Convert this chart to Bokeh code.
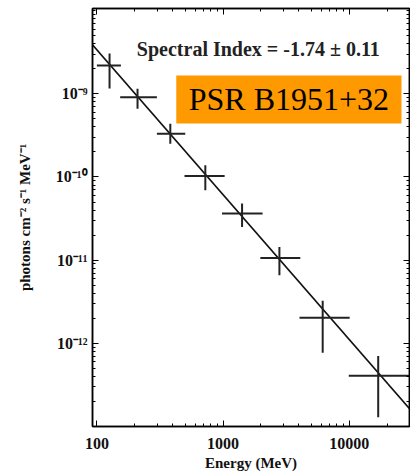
from bokeh.plotting import figure
from bokeh.models import LogAxis, FixedTicker, CustomJSTickFormatter, BasicTickFormatter
from bokeh.core.properties import value
from bokeh.embed import file_html
from bokeh.resources import INLINE

# ---- data ----
energy = [126, 210, 382, 724, 1416, 2800, 6170, 17000]          # MeV
energy_lo = [100, 153, 299, 495, 982, 1977, 4040, 9930]
energy_hi = [155, 299, 502, 1030, 2060, 4100, 10100, 31000]
flux = [2.19e-9, 9.1e-10, 3.31e-10, 1.03e-10, 3.63e-11, 1.06e-11, 2.03e-12, 4.08e-13]
flux_lo = [1.16e-9, 6.6e-10, 2.51e-10, 6.9e-11, 2.5e-11, 6.6e-12, 7.7e-13, 1.29e-13]
flux_hi = [3.05e-9, 1.15e-9, 4.37e-10, 1.38e-10, 4.79e-11, 1.44e-11, 3.24e-12, 7.05e-13]

spectral_index = -1.74
index_err = 0.11
fit_norm_1000 = 6.13e-11      # flux of the fitted power law at 1000 MeV
fit_energy = [90, 32000]
fit_flux = [fit_norm_1000 * (e / 1000.0) ** spectral_index for e in fit_energy]

x_major = [100, 1000, 10000]
y_major = [1e-12, 1e-11, 1e-10, 1e-9]
x_minor = [k * 10 ** n for n in (2, 3, 4) for k in range(2, 10)]
y_minor = [k * 10.0 ** n for n in (-13, -12, -11, -10, -9, -8) for k in range(1, 10)]

title_text = "Spectral Index = %.2f \u00b1 %.2f" % (spectral_index, index_err)
source_name = "PSR B1951+32"

SERIF = "Liberation Serif"

p = figure(width=410, height=474, x_axis_type="log", y_axis_type="log",
           x_range=(92.3, 30100), y_range=(1.0e-13, 1.06e-8),
           output_backend="svg", toolbar_location=None,
           min_border_left=92, min_border_right=1, min_border_top=8, min_border_bottom=48)
p.background_fill_color = "white"
p.border_fill_color = "white"
p.outline_line_color = "black"
p.outline_line_width = 1.5
p.grid.visible = False

sup = {"-": "\u207b", "0": "\u2070", "1": "\u00b9", "2": "\u00b2", "3": "\u00b3",
       "4": "\u2074", "5": "\u2075", "6": "\u2076", "7": "\u2077", "8": "\u2078", "9": "\u2079"}
sup_js = "{" + ",".join('"%s":"%s"' % (k, v) for k, v in sup.items()) + "}"
yfmt = CustomJSTickFormatter(code="""
const sup = %s;
const e = Math.round(Math.log10(tick));
return "10" + String(e).split("").map(c => sup[c]).join("");
""" % sup_js)
blank = CustomJSTickFormatter(code='return " ";')

xa = p.xaxis[0]
ya = p.yaxis[0]
xa.ticker = FixedTicker(ticks=x_major, minor_ticks=x_minor)
ya.ticker = FixedTicker(ticks=y_major, minor_ticks=y_minor)
xa.formatter = BasicTickFormatter(use_scientific=False)
ya.formatter = yfmt
xa.axis_label = "Energy (MeV)"
ya.axis_label = "photons cm\u207b\u00b2 s\u207b\u00b9 MeV\u207b\u00b9"

for ax in (xa, ya):
    ax.major_tick_in = 6
    ax.major_tick_out = 0
    ax.minor_tick_in = 3
    ax.minor_tick_out = 0
    ax.axis_line_color = "black"
    ax.axis_line_width = 1.5
    ax.major_tick_line_color = "black"
    ax.minor_tick_line_color = "black"
    ax.major_label_text_font = SERIF
    ax.major_label_text_font_style = "bold"
    ax.major_label_text_font_size = "16px"
    ax.major_label_text_color = "#111111"
    ax.axis_label_text_font = SERIF
    ax.axis_label_text_font_style = "bold"
    ax.axis_label_text_color = "#111111"

xa.axis_label_text_font_size = "15px"
ya.axis_label_text_font_size = "15px"
xa.major_label_standoff = 11
ya.major_label_standoff = 5
xa.axis_label_standoff = 3
ya.axis_label_standoff = 20

top = LogAxis(ticker=FixedTicker(ticks=x_major, minor_ticks=x_minor), formatter=blank)
right = LogAxis(ticker=FixedTicker(ticks=y_major, minor_ticks=y_minor), formatter=blank)
for ax in (top, right):
    ax.major_tick_in = 6
    ax.major_tick_out = 0
    ax.minor_tick_in = 3
    ax.minor_tick_out = 0
    ax.axis_line_width = 1.5
    ax.major_label_text_font_size = "2px"
    ax.major_label_text_alpha = 0
    ax.major_label_standoff = 0
p.add_layout(top, "above")
p.add_layout(right, "right")

# fitted power law
p.line(fit_energy, fit_flux, line_color="#111111", line_width=1.6)

# error-bar crosses
p.segment(x0=energy_lo, y0=flux, x1=energy_hi, y1=flux, line_color="#222222", line_width=2)
p.segment(x0=energy, y0=flux_lo, x1=energy, y1=flux_hi, line_color="#222222", line_width=2)

# annotation texts
p.text(x=[1905], y=[3.5e-9], text=[title_text], text_font=value(SERIF), text_font_style="bold",
       text_font_size="20px", text_align="center", text_baseline="middle", text_color="#222222")

p.quad(left=[426], right=[26000], bottom=[4.4e-10], top=[1.66e-9],
       fill_color="#FF9900", line_color=None)
p.text(x=[3330], y=[8.55e-10], text=[source_name], text_font=value(SERIF),
       text_font_size="32px", text_align="center", text_baseline="middle", text_color="black")

open("out.html", "w").write(file_html(p, INLINE))
